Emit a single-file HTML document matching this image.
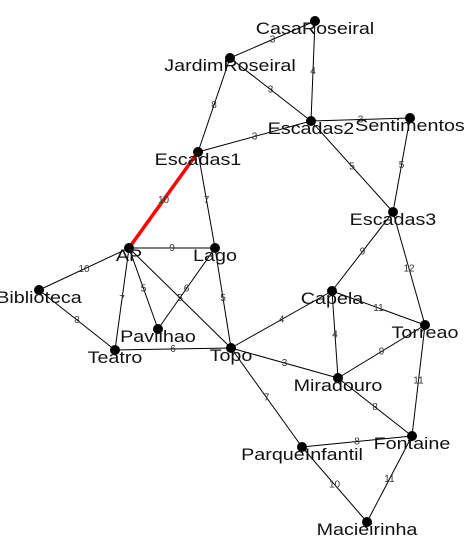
<!DOCTYPE html>
<html><head><meta charset="utf-8"><style>
html,body{margin:0;padding:0;background:#fff;}
svg{display:block;}
.nl{font-family:"Liberation Sans",sans-serif;font-size:17px;fill:#111;}
.el{font-family:"Liberation Sans",sans-serif;font-size:10px;fill:#333;}
</style></head><body>
<svg id="chart" width="473" height="545"></svg>
<script>
const nodeNames = ["CasaRoseiral","JardimRoseiral","Escadas2","Sentimentos","Escadas1","Escadas3","Lago","AP","Biblioteca","Pavilhao","Teatro","Topo","Capela","Torreao","Miradouro","Fontaine","ParqueInfantil","Macieirinha"];
const nodeX = [315,230,311,410,198,393,215,129,39,158,115,231,332,425,338,412,302,367];
const nodeY = [21,58,121,118,152,212,248,248,290,329,350,348,291,325,378,436,447,522];
const edgeFrom = ["CasaRoseiral","CasaRoseiral","JardimRoseiral","JardimRoseiral","Escadas1","Escadas2","Escadas2","Sentimentos","Escadas1","Escadas1","AP","AP","AP","AP","AP","Pavilhao","Lago","Biblioteca","Teatro","Topo","Topo","Topo","Capela","Capela","Capela","Escadas3","Torreao","Torreao","Miradouro","ParqueInfantil","ParqueInfantil","Fontaine"];
const edgeTo = ["JardimRoseiral","Escadas2","Escadas2","Escadas1","Escadas2","Sentimentos","Escadas3","Escadas3","AP","Lago","Lago","Biblioteca","Teatro","Pavilhao","Topo","Lago","Topo","Teatro","Topo","Capela","Miradouro","ParqueInfantil","Escadas3","Torreao","Miradouro","Torreao","Miradouro","Fontaine","Fontaine","Fontaine","Macieirinha","Macieirinha"];
const edgeWeights = [3,4,3,8,3,3,5,5,10,7,9,10,7,5,5,6,5,8,6,4,3,7,9,11,4,12,9,11,8,8,10,11];
const highlighted = ["Escadas1-AP"];

const svg = document.getElementById('chart');
const NS = 'http://www.w3.org/2000/svg';
function px(n){return nodeX[nodeNames.indexOf(n)];}
function py(n){return nodeY[nodeNames.indexOf(n)];}
const gE = document.createElementNS(NS,'g'); svg.appendChild(gE);
const gL = document.createElementNS(NS,'g'); svg.appendChild(gL);
const gN = document.createElementNS(NS,'g'); svg.appendChild(gN);
const gT = document.createElementNS(NS,'g'); svg.appendChild(gT);
for(let i=0;i<edgeFrom.length;i++){
  const a=edgeFrom[i], b=edgeTo[i];
  const hl = highlighted.includes(a+'-'+b);
  const l=document.createElementNS(NS,'line');
  l.setAttribute('x1',px(a));l.setAttribute('y1',py(a));
  l.setAttribute('x2',px(b));l.setAttribute('y2',py(b));
  l.setAttribute('stroke',hl?'#f00':'#000');
  l.setAttribute('stroke-width',hl?3.5:1);
  
  
  gE.appendChild(l);
  const t=document.createElementNS(NS,'text');
  t.setAttribute('x',(px(a)+px(b))/2);t.setAttribute('y',(py(a)+py(b))/2+3);
  t.setAttribute('text-anchor','middle');t.setAttribute('class','el');
  t.textContent=edgeWeights[i];
  
  
  gL.appendChild(t);
}
for(let i=0;i<nodeNames.length;i++){
  const c=document.createElementNS(NS,'circle');
  c.setAttribute('cx',nodeX[i]);c.setAttribute('cy',nodeY[i]);c.setAttribute('r',5);
  c.setAttribute('fill','#000');
  
  
  gN.appendChild(c);
  const t=document.createElementNS(NS,'text');
  t.setAttribute('x',nodeX[i]);t.setAttribute('y',nodeY[i]+13);
  t.setAttribute('text-anchor','middle');t.setAttribute('class','nl');
  t.textContent=nodeNames[i];
  
  
  gT.appendChild(t);
  const w=t.getComputedTextLength();
  if(w>0){t.setAttribute('textLength',(w*1.16).toFixed(1));t.setAttribute('lengthAdjust','spacingAndGlyphs');}
}
</script>
</body></html>
